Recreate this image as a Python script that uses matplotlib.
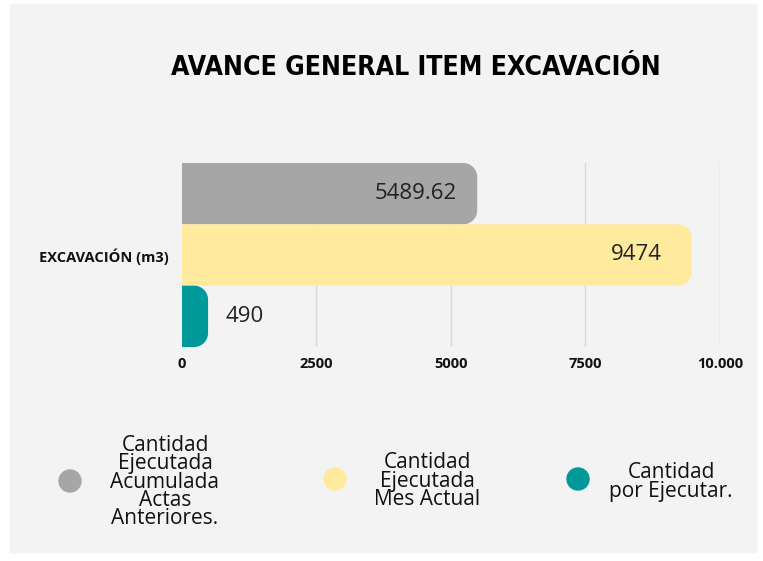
import matplotlib.pyplot as plt
import numpy as np
from matplotlib import font_manager
from matplotlib.path import Path
from matplotlib.patches import PathPatch, Rectangle, Ellipse

# data
category = 'EXCAVACIÓN (m3)'
series_names = ['Cantidad\nEjecutada\nAcumulada\nActas\nAnteriores.',
                'Cantidad\nEjecutada\nMes Actual',
                'Cantidad\npor Ejecutar.']
values = [5489.62, 9474, 490]
value_labels = ['5489.62', '9474', '490']
colors = ['#a6a6a6', '#ffea9e', '#00999a']
ticks = [0, 2500, 5000, 7500, 10000]
tick_labels = ['0', '2500', '5000', '7500', '10.000']

W, H = 763, 561
fig = plt.figure(figsize=(W / 100, H / 100), dpi=100, facecolor='white')
fig.patches.append(Rectangle((10 / W, 1 - 552 / H), 746 / W, 548 / H,
                             transform=fig.transFigure, color='#f3f3f3', zorder=-10))

# a narrow bold face for the title, if one is installed
names = sorted({f.name for f in font_manager.fontManager.ttflist})
title_font = 'DejaVu Sans'
title_stretch = 'normal'
for cand in ['Liberation Sans Narrow', 'DejaVu Sans Condensed']:
    if cand in names:
        title_font = cand
        break
else:
    title_stretch = 'condensed'

title = fig.text(416 / W, 1 - 68 / H, 'AVANCE GENERAL ITEM EXCAVACIÓN', ha='center', va='center',
                 fontsize=30, fontweight='heavy', family=title_font, fontstretch=title_stretch,
                 color='black')
rend = fig.canvas.get_renderer()
tw = title.get_window_extent(rend).width
title.set_fontsize(30 * 488 / tw)

ax = fig.add_axes([181.7 / W, 1 - 347 / H, (720 - 181.7) / W, (347 - 163) / H])
ax.set_facecolor('none')
ax.set_xlim(0, 10000)
ax.set_ylim(2.5, -0.5)
for s in ax.spines.values():
    s.set_visible(False)
for t in ticks[1:]:
    ax.axvline(t, color='#d9d9d9', lw=1, zorder=1)

# pixel -> data scale, to get round corners
p0 = ax.transData.transform((0, 0))
p1 = ax.transData.transform((1, 1))
px_x = abs(p1[0] - p0[0])
px_y = abs(p1[1] - p0[1])
r = 14


def bar_path(y, v, h=1.0):
    y0, y1 = y - h / 2, y + h / 2
    rx = min(r / px_x, v)
    ry = r / px_y
    k = 0.5523
    verts = [(0, y0), (v - rx, y0),
             (v - rx + k * rx, y0), (v, y0 + ry - k * ry), (v, y0 + ry),
             (v, y1 - ry),
             (v, y1 - ry + k * ry), (v - rx + k * rx, y1), (v - rx, y1),
             (0, y1), (0, y0)]
    codes = [Path.MOVETO, Path.LINETO,
             Path.CURVE4, Path.CURVE4, Path.CURVE4,
             Path.LINETO,
             Path.CURVE4, Path.CURVE4, Path.CURVE4,
             Path.LINETO, Path.CLOSEPOLY]
    return Path(verts, codes)


label_pad = [20, 30, 17]   # px between bar end and its label
for i, (v, c, lab) in enumerate(zip(values, colors, value_labels)):
    ax.add_patch(PathPatch(bar_path(i, v), facecolor=c, edgecolor='none', zorder=2))
    if v > 1500:
        ax.text(v - label_pad[i] / px_x, i, lab, ha='right', va='center', fontsize=16,
                family='Open Sans', color='#222222', zorder=3)
    else:
        ax.text(v + label_pad[i] / px_x, i, lab, ha='left', va='center', fontsize=16,
                family='Open Sans', color='#222222', zorder=3)

ax.set_xticks(ticks)
ax.set_xticklabels(tick_labels, fontsize=10.5, fontweight='bold', family='Open Sans', color='#111111')
ax.set_yticks([1])
ax.set_yticklabels([category], fontsize=10.5, fontweight='bold', family='Open Sans', color='#111111')
ax.tick_params(length=0, axis='x', pad=7)
ax.tick_params(length=0, axis='y', pad=9)

# legend
leg_dots = [(70, 481), (335, 479), (578, 479)]
leg_text = [(165, 482), (427, 481), (671, 482)]
for (dx, dy), (tx, ty), name, c in zip(leg_dots, leg_text, series_names, colors):
    fig.patches.append(Ellipse((dx / W, 1 - dy / H), 22 / W, 22 / H,
                               transform=fig.transFigure, color=c, zorder=2))
    fig.text(tx / W, 1 - ty / H, name, ha='center', va='center', fontsize=15,
             family='Open Sans', color='#111111', linespacing=0.84)

fig.savefig('out.png', dpi=100, facecolor=fig.get_facecolor())
